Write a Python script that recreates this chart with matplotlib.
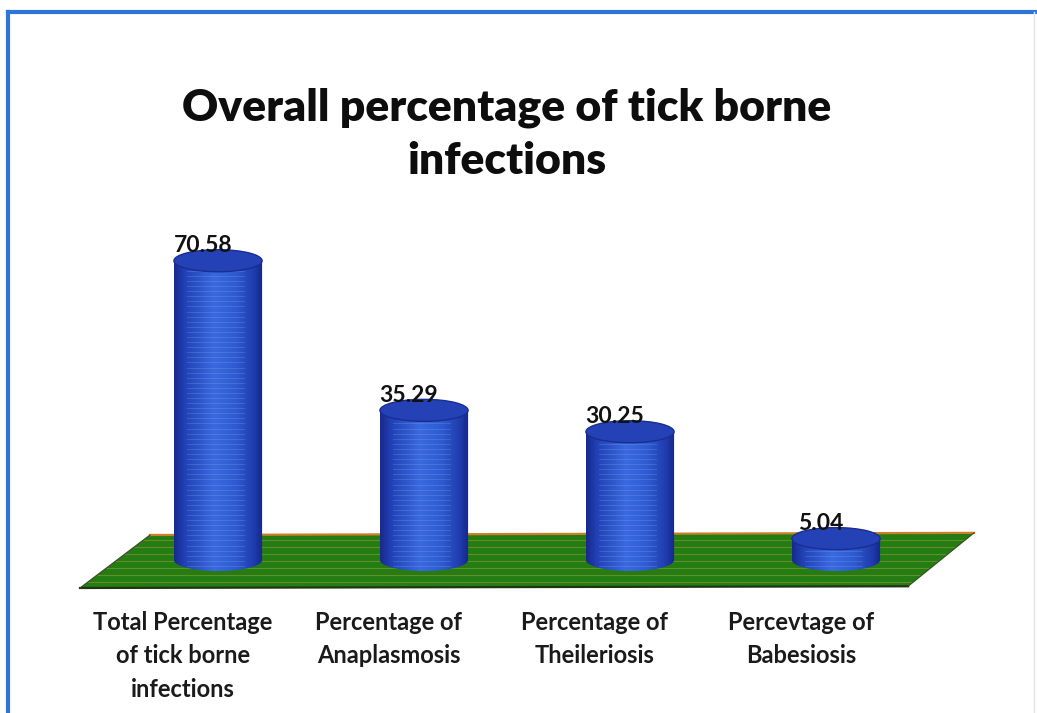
import numpy as np
import matplotlib
matplotlib.use("Agg")
import matplotlib.pyplot as plt
from matplotlib.patches import Polygon, Ellipse, PathPatch
from matplotlib.path import Path
from matplotlib.lines import Line2D
from matplotlib.colors import LinearSegmentedColormap

# ---- data ----
categories = [
    "Total Percentage\nof tick borne\ninfections",
    "Percentage of\nAnaplasmosis",
    "Percentage of\nTheileriosis",
    "Percevtage of\nBabesiosis",
]
values = [70.58, 35.29, 30.25, 5.04]
value_labels = ["70.58", "35.29", "30.25", "5.04"]
title = "Overall percentage of tick borne\ninfections"

FONT = "Lato"
W, H = 1037, 713
fig = plt.figure(figsize=(W / 100, H / 100), dpi=100)
fig.patch.set_facecolor("white")

# plotting area: category index on x, percentage on y
x0, x1 = -0.75, 3.75
y0, y1 = -8, 80
sx, sy = 206.0, 4.24          # pixels per unit
cx0, cy0 = 218.0, 560.0       # pixel position of (0, 0)
px_l, px_r = cx0 + sx * x0, cx0 + sx * x1
py_b, py_t = cy0 - sy * y0, cy0 - sy * y1
ax = fig.add_axes([px_l / W, 1 - py_b / H, (px_r - px_l) / W, (py_b - py_t) / H])
ax.set_xlim(x0, x1)
ax.set_ylim(y0, y1)
ax.axis("off")

# ---- green floor ----
floor_pts = [(-0.67, -6.6), (3.35, -6.2), (3.67, 6.4), (-0.33, 5.9)]
floor = Polygon(floor_pts, closed=True, facecolor="#237d12", edgecolor="none", zorder=1)
ax.add_patch(floor)
for yy in np.arange(-5.2, 6.0, 1.65):
    ln, = ax.plot([x0, x1], [yy, yy], color="#c9a545", lw=0.8, alpha=0.4, zorder=1.1)
    ln.set_clip_path(floor)
ax.plot([floor_pts[3][0], floor_pts[2][0]], [floor_pts[3][1], floor_pts[2][1]],
        color="#cf7d2a", lw=1.6, zorder=1.2)
ax.plot([floor_pts[0][0], floor_pts[1][0]], [floor_pts[0][1], floor_pts[1][1]],
        color="#1e3414", lw=1.6, zorder=1.2)
ax.plot([floor_pts[0][0], floor_pts[3][0]], [floor_pts[0][1], floor_pts[3][1]],
        color="#3a4a20", lw=0.8, zorder=1.2)
ax.plot([floor_pts[1][0], floor_pts[2][0]], [floor_pts[1][1], floor_pts[2][1]],
        color="#3a4a20", lw=0.8, zorder=1.2)

# ---- cylinders ----
a = 0.214   # half width (x units)
b = 2.6     # ellipse half height (y units)
body_cmap = LinearSegmentedColormap.from_list(
    "body", [(0.0, "#17298c"), (0.12, "#2141b6"), (0.45, "#3a6ae0"),
             (0.7, "#2e5ad0"), (0.9, "#1f3cae"), (1.0, "#15268a")])
grad = np.linspace(0, 1, 256).reshape(1, -1)
t = np.linspace(np.pi, 2 * np.pi, 60)

for i, v in enumerate(values):
    xs = [i - a] + list(i + a * np.cos(t)) + [i + a, i - a]
    ys = [v] + list(b * np.sin(t)) + [v, v]
    body = PathPatch(Path(np.column_stack([xs, ys])), facecolor="none",
                     edgecolor="none", zorder=2)
    ax.add_patch(body)
    im = ax.imshow(grad, cmap=body_cmap, aspect="auto",
                   extent=[i - a, i + a, -b, v], zorder=2, interpolation="bilinear")
    im.set_clip_path(body)
    for yy in np.arange(-b, v, 1.2):
        ln, = ax.plot([i - a * 0.7, i + a * 0.6], [yy, yy], color="#9ab8f2", lw=0.6,
                      alpha=0.25, zorder=2.1)
        ln.set_clip_path(body)
    top = Ellipse((i, v), 2 * a, 2 * b, facecolor="#2442b6", edgecolor="#1a2d90",
                  lw=1.0, zorder=3)
    ax.add_patch(top)
    ax.text(i - 0.073, v + 3.6, value_labels[i], ha="center", va="center",
            fontsize=16.5, fontweight="bold", family=FONT, color="#111111", zorder=4)

# ---- category labels ----
for i, c in enumerate(categories):
    ax.text(i - 0.17, -12.0, c, ha="center", va="top", fontsize=17,
            fontweight="bold", family=FONT, color="#1a1a1a", linespacing=1.55,
            clip_on=False)

# ---- title ----
fig.text(507 / W, 1 - 134 / H, title, ha="center", va="center", fontsize=32,
         fontweight="heavy", family=FONT, color="#0d0d0d", linespacing=1.4)

# ---- frame ----
fig.add_artist(Line2D([8 / W, 8 / W], [0, 1 - 12 / H], color="#2f74d8", lw=3.0))
fig.add_artist(Line2D([8 / W, 1.0], [1 - 12 / H, 1 - 12 / H], color="#2f74d8", lw=3.0))
fig.add_artist(Line2D([1034 / W, 1034 / W], [0, 1 - 12 / H], color="#e4e4e4", lw=1.0))

fig.savefig("out.png", dpi=100, facecolor="white")
